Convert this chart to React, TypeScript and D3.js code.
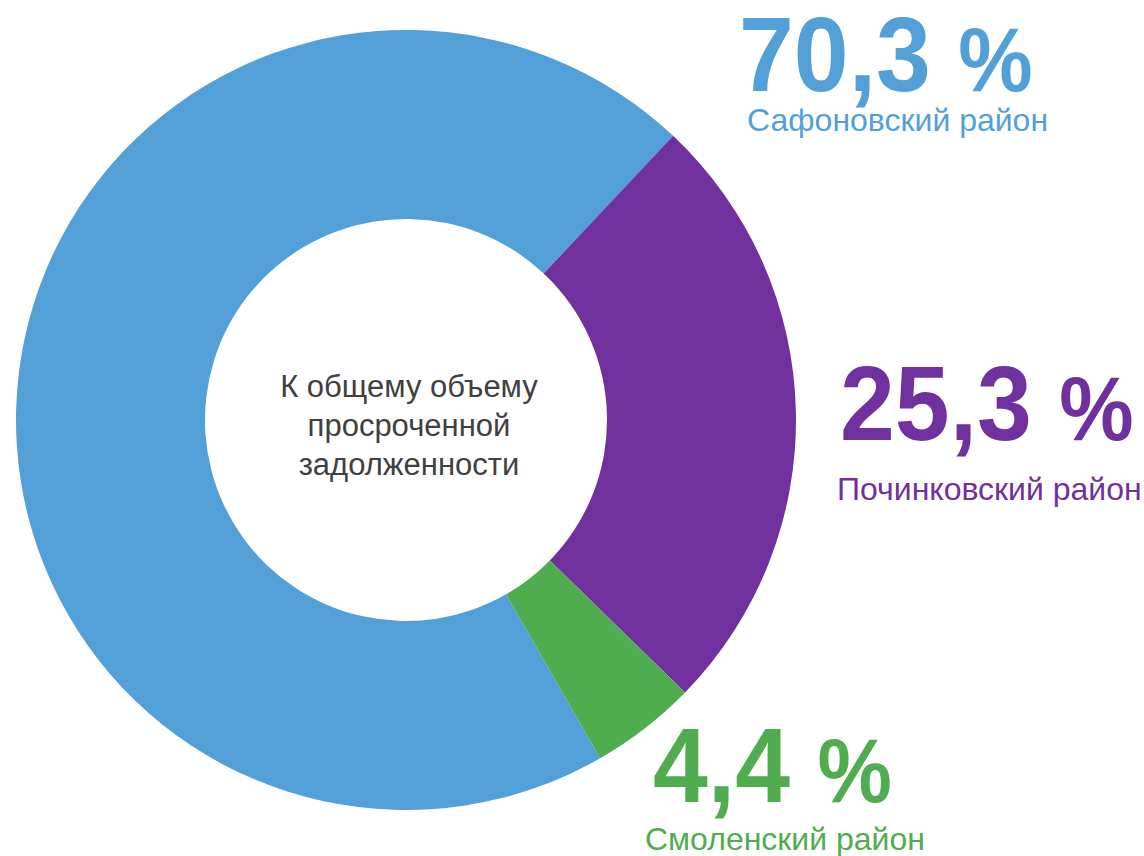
import React from "react";
import * as d3 from "d3";

const categories = ["Сафоновский район", "Починковский район", "Смоленский район"];
const values = [70.3, 25.3, 4.4];
const valueLabels = ["70,3", "25,3", "4,4"];
const percentSign = "%";
const colors = ["#539FD7", "#70309E", "#4FAD4F"];
const centerLines = ["К общему объему", "просроченной", "задолженности"];

const W = 1144;
const H = 856;
const cx = 406;
const cy = 420;
const outerR = 390;
const innerR = 201;

// label placement (big number baseline, left x; category label baseline, left x)
const labelPos = [
  { nx: 739, ny: 91, lx: 747, ly: 131 },
  { nx: 840, ny: 440, lx: 837, ly: 500 },
  { nx: 653, ny: 802, lx: 645, ly: 850 },
];

export default function App() {
  const start = (150.15 * Math.PI) / 180;
  const pie = d3
    .pie<number>()
    .sort(null)
    .value((d) => d)
    .startAngle(start)
    .endAngle(start + 2 * Math.PI);
  const arcs = pie(values);
  const arc = d3.arc<d3.PieArcDatum<number>>().innerRadius(innerR).outerRadius(outerR);

  return (
    <svg
      width={W}
      height={H}
      style={{ position: "absolute", left: 0, top: 0, background: "#fff" }}
      fontFamily="'Liberation Sans', Arial, sans-serif"
    >
      <g transform={`translate(${cx},${cy})`}>
        {arcs.map((a, i) => (
          <path key={i} d={arc(a) || ""} fill={colors[i]} />
        ))}
      </g>
      {centerLines.map((t, i) => (
        <text
          key={i}
          x={cx + 3}
          y={397 + i * 39}
          textAnchor="middle"
          fontSize={31}
          fill="#404040"
        >
          {t}
        </text>
      ))}
      {categories.map((c, i) => (
        <g key={i}>
          <text
            transform={`translate(${labelPos[i].nx},${labelPos[i].ny}) scale(0.93,1)`}
            fontSize={106}
            fontWeight="bold"
            fill={colors[i]}
          >
            <tspan>{valueLabels[i] + " "}</tspan>
            <tspan fontSize={90}>{percentSign}</tspan>
          </text>
          <text x={labelPos[i].lx} y={labelPos[i].ly} fontSize={32} fill={colors[i]}>
            {c}
          </text>
        </g>
      ))}
    </svg>
  );
}
